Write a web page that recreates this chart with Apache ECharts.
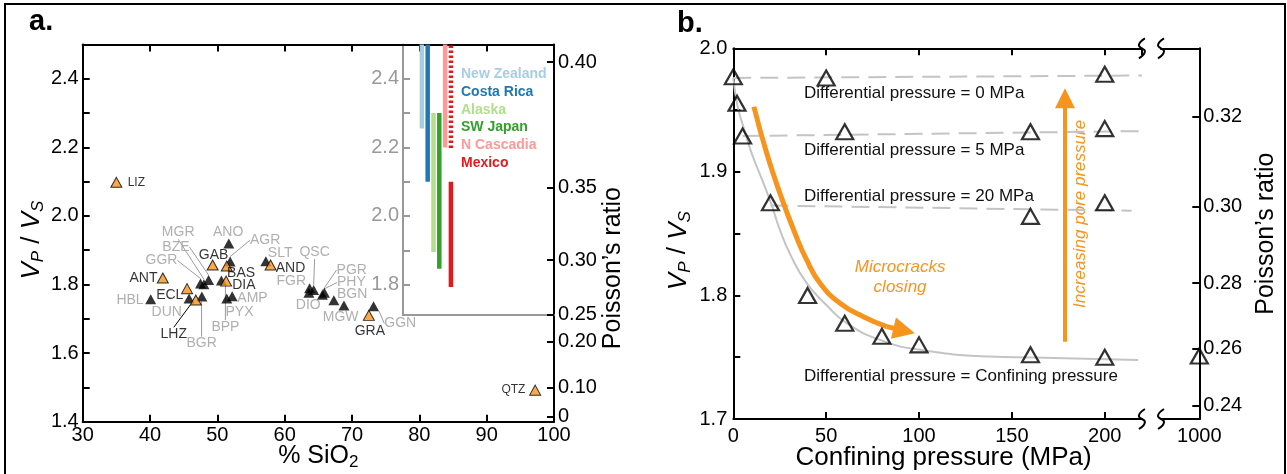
<!DOCTYPE html>
<html><head><meta charset="utf-8">
<script src="https://cdn.jsdelivr.net/npm/echarts@6/dist/echarts.min.js"></script>
<style>html,body{margin:0;padding:0;background:#fff}#c{width:1287px;height:474px}</style>
</head><body><div id="c"></div>
<script>
// ================= DATA =================
// Panel a: rocks (orange = black labels, black = gray labels)
const orangeNames = ['LIZ','ANT','ECL','LHZ','GAB','BAS','DIA','AND','GRA','QTZ'];
const orangeSiO2  = [35.0, 41.9, 45.5, 46.8, 49.3, 51.4, 51.3, 57.9, 72.5, 97.2];
const orangeVpVs  = [2.098,1.819,1.788,1.755,1.857,1.854,1.810,1.857,1.710,1.492];
const blackNames = ['HBL','DUN','BGR','GGR','MGR','BZE','ANO','AGR','BPP','PYX','AMP','SLT','FGR','QSC','DIO','PGR','PHY','BGN','MGW','GGN'];
const blackSiO2  = [40.1, 45.8, 47.7, 47.5, 48.0, 48.7, 51.7, 51.9, 50.6, 51.4, 52.2, 57.2, 63.7, 64.3, 63.6, 65.9, 65.6, 67.3, 68.8, 73.2];
const blackVpVs  = [1.757,1.759,1.765,1.803,1.801,1.813,1.920,1.867,1.812,1.759,1.766,1.868,1.789,1.784,1.776,1.776,1.770,1.754,1.739,1.737];
// Panel a inset: Vp/Vs ranges of subduction zones
const regionNames = ['New Zealand','Costa Rica','Alaska','SW Japan','N Cascadia','Mexico'];
const regionLow   = [2.255, 2.10, 1.895, 1.846, 2.20, 1.793];
const regionHigh  = [2.50,  2.50, 2.30,  2.30,  2.50, 2.10];
const mexicoHatchRange = [2.198, 2.50];
const regionSlot  = [3.25, 4.25, 5.25, 6.25, 7.25, 8.25];
// Panel a right axis (Poisson's ratio)
const poissonLabelsA = ['0','0.10','0.20','0.25','0.30','0.35','0.40'];
const poissonAtVpVsA = [1.414, 1.5, 1.633, 1.712, 1.871, 2.082, 2.449];
const insetTickLabels = [1.8, 2.0, 2.2, 2.4];
const insetTicks = [1.8, 1.9, 2.0, 2.1, 2.2, 2.3, 2.4];

// Panel b: Vp/Vs vs confining pressure
const dp0X  = [0, 50, 200];           const dp0Y  = [1.977, 1.976, 1.979];
const dp5X  = [5, 60, 160, 200];      const dp5Y  = [1.929, 1.9325, 1.9325, 1.935];
const dp20X = [20, 160, 200];         const dp20Y = [1.875, 1.864, 1.875];
const dpcX  = [2, 40, 60, 80, 100, 160, 200];
const dpcY  = [1.9555, 1.800, 1.7775, 1.767, 1.760, 1.752, 1.750];
const highPX = [1000];                const highPY = [1.751];
const fitCurveX = [0, 2.2, 5.4, 9.9, 15.3, 20.7, 25.1, 30.7, 39.5, 50.3, 61.1, 79, 100.5, 138.2, 161.5, 218];
const fitCurveY = [1.976,1.954,1.9366,1.915,1.8945,1.873,1.853,1.833,1.810,1.792,1.7775,1.764,1.756,1.7505,1.7497,1.7478];
const dash0X = [0, 220];     const dash0Y = [1.976, 1.978];
const dash5X = [5, 220];     const dash5Y = [1.929, 1.933];
const dash20X = [20, 214.5]; const dash20Y = [1.8727, 1.8686];
const crackX = [11.1, 18.0, 25.1, 33.2, 39.5, 46.7, 57.5, 70.0, 82.6];
const crackY = [1.9527, 1.915, 1.8827, 1.8503, 1.8287, 1.8099, 1.7937, 1.7828, 1.7748];
const crackHead = [[82.6, 1.7748], [92.0, 1.7715]];
const poreArrow = [[178.6, 1.7626], [178.6, 1.9595]];
const poissonLabelsB = ['0.24','0.26','0.28','0.30','0.32'];
const poissonAtVpVsB = [1.711, 1.757, 1.810, 1.872, 1.9447];
const xTickLabelB2 = [1000];

// ================= STYLE / LAYOUT =================
const FF = "'Liberation Sans', Arial, Helvetica, sans-serif";
const ORANGE = '#f7941d';
const GRAYT = '#9b9b9b';
const regionColors = ['#a6cee3','#1f78b4','#b2df8a','#33a02c','#fb9a99','#e31a1c'];
const labelOffsets = {
  LIZ:[20,0], ANT:[-19.3,0], ECL:[-17.3,6], LHZ:[-22,34.3], GAB:[1,-9.7], BAS:[14.3,7.3], DIA:[17.7,4.3],
  AND:[20,2.7], GRA:[1,15.7], QTZ:[-21.7,0],
  HBL:[-20.7,1], DUN:[-22.3,13.3], BGR:[-0.3,47], GGR:[-39,-23], MGR:[-25.7,-52], BZE:[-32.7,-33],
  ANO:[-0.7,-11.3], AGR:[35,-21.3], BPP:[4,46.7], PYX:[12.7,13.3], AMP:[20.3,2.3], SLT:[14.3,-8.3],
  FGR:[-18.3,-6.7], QSC:[1,-38], DIO:[-0.7,12.3], PGR:[27.3,-22.7], PHY:[29,-12.3], BGN:[18.3,-6],
  MGW:[-3.3,11.3], GGN:[26.7,17.3]
};
const leader = new Set(['LHZ','BGR','GGR','BZE','MGR','AGR','BPP','QSC','PGR','PHY','GGN']);
const smallLabel = new Set(['LIZ','QTZ']);
const layoutFn = p => { const o = labelOffsets[p.text] || [0,0]; return {dx:o[0], dy:o[1]}; };

const axLine = {show:true, lineStyle:{color:'#000', width:2}};
const axTick = {show:true, inside:true, length:7, lineStyle:{color:'#000', width:2}};
const lbl = (o) => Object.assign({color:'#000', fontSize:20, fontFamily:FF, margin:4}, o||{});
const vpvsName = '{i|V}{s|P}{n| / }{i|V}{s|S}';
const vpvsRich = {
  i:{fontSize:26, fontStyle:'italic', fontFamily:FF, color:'#000', lineHeight:28, verticalAlign:'top'},
  n:{fontSize:26, fontFamily:FF, color:'#000', lineHeight:28, verticalAlign:'top'},
  s:{fontSize:17, fontStyle:'italic', fontFamily:FF, color:'#000', lineHeight:17, padding:[12,0,0,0], verticalAlign:'bottom'}
};
const zip = (xs, ys) => xs.map((x,i)=>[x, ys[i]]);
const G = (o) => Object.assign({outerBoundsMode:'none', containLabel:false}, o);

const option = {
  animation:false,
  textStyle:{fontFamily:FF},
  grid:[
    G({left:82.7, top:44.5, width:471.3, height:377.2}),
    G({left:403,  top:44.5, width:151,   height:270.5}),
    G({left:733.3,top:48.3, width:408.6, height:370.7}),
    G({left:1161, top:48.3, width:38.3,  height:370.7})
  ],
  legend:{
    left:456, top:65.5, orient:'vertical', padding:0, itemGap:0, itemWidth:0, itemHeight:0, icon:'rect',
    selectedMode:false,
    textStyle:{fontSize:14, fontWeight:'bold', fontFamily:FF, lineHeight:17.7},
    data: regionNames.map((n,i)=>({name:n, textStyle:{color:regionColors[i]}}))
  },
  xAxis:[
    {gridIndex:0, type:'value', min:30, max:100, interval:10, position:'bottom',
     axisLine:axLine, axisTick:axTick, splitLine:{show:false}, axisLabel:lbl({margin:4}),
     name:'{n|% SiO}{s|2}', nameLocation:'middle', nameGap:22, nameMoveOverlap:false,
     nameTextStyle:{verticalAlign:'top', rich:{n:{fontSize:25, fontFamily:FF, color:'#000', lineHeight:27, verticalAlign:'top'},
                          s:{fontSize:17, fontFamily:FF, color:'#000', lineHeight:17, padding:[13,0,0,0], verticalAlign:'bottom'}}}},
    {gridIndex:0, type:'value', min:30, max:100, interval:10, position:'top',
     axisLine:axLine, axisTick:axTick, splitLine:{show:false}, axisLabel:{show:false}},
    {gridIndex:1, type:'value', min:0, max:26, position:'bottom',
     axisLine:{show:true, lineStyle:{color:'#999', width:2}}, axisTick:{show:false}, axisLabel:{show:false}, splitLine:{show:false}},
    {gridIndex:2, type:'value', min:0, max:220, interval:50, position:'bottom',
     axisLine:axLine, axisTick:axTick, splitLine:{show:false}, axisLabel:lbl({margin:7, showMaxLabel:false}),
     name:'Confining pressure (MPa)', nameLocation:'middle', nameGap:26, nameMoveOverlap:false,
     nameTextStyle:{fontSize:26, fontFamily:FF, color:'#000', verticalAlign:'top', padding:[0,0,0,12]}},
    {gridIndex:2, type:'value', min:0, max:220, interval:50, position:'top',
     axisLine:axLine, axisTick:axTick, splitLine:{show:false}, axisLabel:{show:false}},
    {gridIndex:3, type:'value', min:985, max:1000, position:'bottom',
     axisLine:axLine, axisTick:{show:false}, splitLine:{show:false},
     axisLabel:lbl({margin:7, customValues:xTickLabelB2, formatter:v=>String(Math.round(v))})},
    {gridIndex:3, type:'value', min:985, max:1000, position:'top',
     axisLine:axLine, axisTick:{show:false}, splitLine:{show:false}, axisLabel:{show:false}}
  ],
  yAxis:[
    {gridIndex:0, type:'value', min:1.4, max:2.5, interval:0.1, position:'left',
     axisLine:axLine, axisTick:axTick, splitLine:{show:false},
     axisLabel:lbl({formatter:v=>{const t=Math.round(v*10); return (t%2===0 && t<=24)?(t/10).toFixed(1):'';}}),
     name:vpvsName, nameLocation:'middle', nameGap:36, nameTextStyle:{rich:vpvsRich, padding:[0,14,0,0]}},
    {gridIndex:0, type:'value', min:1.4, max:2.5, position:'right',
     axisLine:axLine, splitLine:{show:false},
     axisTick:Object.assign({}, axTick, {customValues:poissonAtVpVsA}),
     axisLabel:lbl({customValues:poissonAtVpVsA, formatter:v=>{
        let k=0, d=1e9; poissonAtVpVsA.forEach((p,i)=>{if(Math.abs(p-v)<d){d=Math.abs(p-v);k=i;}}); return poissonLabelsA[k];}}),
     name:'Poisson\u2019s ratio', nameLocation:'middle', nameGap:46,
     nameTextStyle:{fontSize:25, fontFamily:FF, color:'#000', padding:[0,70,0,0]}},
    {gridIndex:1, type:'value', min:1.7112, max:2.5, position:'left',
     axisLine:{show:true, lineStyle:{color:'#999', width:2}}, splitLine:{show:false},
     axisTick:{show:true, inside:true, length:7, lineStyle:{color:'#999', width:2}, customValues:insetTicks},
     axisLabel:{color:'#999', fontSize:20, fontFamily:FF, margin:4, customValues:insetTickLabels, formatter:v=>v.toFixed(1)}},
    {gridIndex:2, type:'value', min:1.7, max:2.0, interval:0.05, position:'left',
     axisLine:axLine, axisTick:axTick, splitLine:{show:false},
     axisLabel:lbl({margin:6, formatter:v=>{const t=Math.round(v*100); return t%10===0?(t/100).toFixed(1):'';}}),
     name:vpvsName, nameLocation:'middle', nameGap:40, nameTextStyle:{rich:vpvsRich, padding:[0,34,0,0]}},
    {gridIndex:3, type:'value', min:1.7, max:2.0, position:'right',
     axisLine:axLine, splitLine:{show:false},
     axisTick:Object.assign({}, axTick, {customValues:poissonAtVpVsB}),
     axisLabel:lbl({customValues:poissonAtVpVsB, formatter:v=>{
        let k=0, d=1e9; poissonAtVpVsB.forEach((p,i)=>{if(Math.abs(p-v)<d){d=Math.abs(p-v);k=i;}}); return poissonLabelsB[k];}}),
     name:'Poisson\u2019s ratio', nameLocation:'middle', nameGap:54,
     nameTextStyle:{fontSize:25, fontFamily:FF, color:'#000'}}
  ],
  series:[]
};

// ---- panel a scatter
function rockItems(names, xs, ys) {
  return names.map((n,i)=>{
    const it = {name:n, value:[xs[i], ys[i]], labelLine:{show:leader.has(n)}};
    if (smallLabel.has(n)) it.label = {fontSize:12};
    return it;
  });
}
option.series.push({
  type:'scatter', name:'lab-orange', xAxisIndex:0, yAxisIndex:0, symbol:'triangle', symbolSize:[11,10], z:4,
  itemStyle:{color:ORANGE, borderColor:'#000', borderWidth:1},
  label:{show:true, position:'inside', formatter:'{b}', color:'#000', fontSize:14, fontFamily:FF},
  labelLine:{show:false, lineStyle:{color:'#000', width:1}},
  labelLayout:layoutFn,
  data:rockItems(orangeNames, orangeSiO2, orangeVpVs)
});
option.series.push({
  type:'scatter', name:'lab-black', xAxisIndex:0, yAxisIndex:0, symbol:'triangle', symbolSize:[11,10], z:3,
  itemStyle:{color:'#000'},
  label:{show:true, position:'inside', formatter:'{b}', color:GRAYT, fontSize:14, fontFamily:FF},
  labelLine:{show:false, lineStyle:{color:GRAYT, width:1}},
  labelLayout:layoutFn,
  data:rockItems(blackNames, blackSiO2, blackVpVs)
});
// ---- inset bars
regionNames.forEach((n,i)=>{
  option.series.push({
    type:'line', name:n, xAxisIndex:2, yAxisIndex:2, symbol:'none', silent:true,
    lineStyle:{color:regionColors[i], width:4.5}, itemStyle:{color:regionColors[i]},
    data:[[regionSlot[i], regionLow[i]], [regionSlot[i], regionHigh[i]]]
  });
});
option.series.push({
  type:'line', name:'Mexico (hatched)', xAxisIndex:2, yAxisIndex:2, symbol:'none', silent:true,
  lineStyle:{color:regionColors[5], width:4.5, type:[2.5,2.5]},
  data:[[regionSlot[5], mexicoHatchRange[0]], [regionSlot[5], mexicoHatchRange[1]]]
});
// ---- panel b
option.series.push({type:'line', name:'fit', xAxisIndex:3, yAxisIndex:3, smooth:true, symbol:'none', silent:true,
  lineStyle:{color:'#c4c4c4', width:2}, data:zip(fitCurveX, fitCurveY), z:2});
[[dash0X,dash0Y],[dash5X,dash5Y],[dash20X,dash20Y]].forEach(([xs,ys])=>{
  option.series.push({type:'line', xAxisIndex:3, yAxisIndex:3, symbol:'none', silent:true,
    lineStyle:{color:'#c4c4c4', width:2, type:[18,9]}, data:zip(xs,ys), z:2});
});
option.series.push({type:'line', name:'crack', xAxisIndex:3, yAxisIndex:3, smooth:true, symbol:'none', silent:true,
  lineStyle:{color:ORANGE, width:5}, data:zip(crackX, crackY), z:3});
option.series.push({type:'lines', coordinateSystem:'cartesian2d', xAxisIndex:3, yAxisIndex:3, silent:true,
  symbol:['none','triangle'], symbolSize:[22,22], lineStyle:{color:ORANGE, width:5, opacity:1},
  data:[{coords:crackHead}, {coords:poreArrow, lineStyle:{width:4}, symbolSize:[22,20]}], z:3});
const openTri = {symbol:'triangle', symbolSize:[17,15], itemStyle:{color:'rgba(255,255,255,0)', borderColor:'#000', borderWidth:2.2}, z:5};
option.series.push(Object.assign({type:'scatter', xAxisIndex:3, yAxisIndex:3,
  data:[].concat(zip(dp0X,dp0Y), zip(dp5X,dp5Y), zip(dp20X,dp20Y), zip(dpcX,dpcY))}, openTri));
option.series.push(Object.assign({type:'scatter', xAxisIndex:5, yAxisIndex:4, clip:false,
  data:zip(highPX, highPY)}, openTri));

const chart = echarts.init(document.getElementById('c'));
chart.setOption(option);

// ---- annotations and decorations (anchored to data / grid positions)
const annotations = [
  {text:'Differential pressure = 0 MPa', x:38.1, y:1.9636, align:'left'},
  {text:'Differential pressure = 5 MPa', x:38.1, y:1.9177, align:'left'},
  {text:'Differential pressure = 20 MPa', x:38.1, y:1.880, align:'left'},
  {text:'Differential pressure = Confining pressure', x:38.1, y:1.7343, align:'left'},
  {text:'Microcracks\nclosing', x:89.8, y:1.8147, align:'center', orange:true},
  {text:'Increasing pore pressure', x:186.8, y:1.866, align:'center', orange:true, rotate:true}
];
const g = [];
g.push({type:'rect', shape:{x:5, y:4, width:1280, height:480}, style:{fill:'none', stroke:'#000', lineWidth:2}, silent:true});
g.push({type:'text', x:29, y:22, style:{text:'a.', fontSize:29, fontWeight:'bold', fontFamily:FF, fill:'#000', textVerticalAlign:'middle'}});
g.push({type:'text', x:677, y:24, style:{text:'b.', fontSize:29, fontWeight:'bold', fontFamily:FF, fill:'#000', textVerticalAlign:'middle'}});
annotations.forEach(a=>{
  const p = chart.convertToPixel({gridIndex:2}, [a.x, a.y]);
  g.push({type:'text', x:p[0], y:p[1], rotation:a.rotate?Math.PI/2:0, silent:true,
    style:{text:a.text, fontSize:17, fontFamily:FF, fontStyle:a.orange?'italic':'normal',
           fill:a.orange?ORANGE:'#111', textAlign:a.align, textVerticalAlign:'middle', lineHeight:20}});
});
// axis break marks
const pA = chart.convertToPixel({gridIndex:2}, [220, 2.0]);
const pB = chart.convertToPixel({gridIndex:2}, [220, 1.7]);
const pC = chart.convertToPixel({gridIndex:3}, [985, 2.0]);
[pA[0], pC[0]].forEach(x=>{
  [pA[1], pB[1]].forEach(y=>{
    g.push({type:'polyline', silent:true, shape:{points:[[x+3,y-10],[x-3,y-3],[x+3,y+3],[x-3,y+10]], smooth:0.5},
      style:{stroke:'#000', lineWidth:2, fill:'none'}});
  });
});
chart.setOption({graphic:g});
</script>
</body></html>
